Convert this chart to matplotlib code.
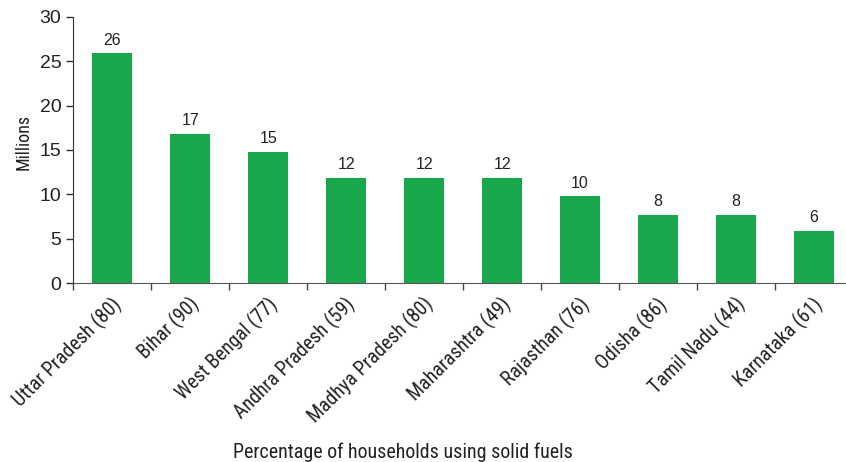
import matplotlib.pyplot as plt
import matplotlib.transforms as mtransforms
import numpy as np

states = ["Uttar Pradesh (80)", "Bihar (90)", "West Bengal (77)", "Andhra Pradesh (59)",
          "Madhya Pradesh (80)", "Maharashtra (49)", "Rajasthan (76)", "Odisha (86)",
          "Tamil Nadu (44)", "Karnataka (61)"]
millions = [25.9, 16.8, 14.8, 11.9, 11.9, 11.9, 9.8, 7.7, 7.7, 5.9]
yticks = [0, 5, 10, 15, 20, 25, 30]

narrow = ["Roboto Condensed", "Archivo Narrow", "PT Sans Narrow", "Liberation Sans Narrow", "DejaVu Sans"]
plain = ["Liberation Sans", "DejaVu Sans"]
green = "#19a74b"
ink = "#222222"

fig = plt.figure(figsize=(8.46, 4.62), dpi=100)
ax = fig.add_axes([0.0866, 0.3868, 0.9217, 0.5771])

x = np.arange(len(states))
bars = ax.bar(x, millions, width=0.51, color=green)
ax.bar_label(bars, fmt="%.0f", padding=4, fontsize=11.5, family=plain, color=ink)

ax.set_xlim(-0.5, len(states) - 0.5)
ax.set_ylim(0, 30)
ax.set_yticks(yticks)
ax.set_yticklabels([str(v) for v in yticks], fontsize=14, family=plain, color=ink)

# ticks sit between the categories, labels at the centres
ax.set_xticks(np.arange(len(states) + 1) - 0.5)
ax.set_xticklabels([])
ax.set_xticks(x, minor=True)
ax.set_xticklabels(states, minor=True, rotation=45, ha="right", va="center",
                   rotation_mode="anchor", fontsize=14.3, family=narrow, color=ink)
ax.tick_params(axis="x", which="minor", length=0, pad=13)
ax.tick_params(axis="x", which="major", length=5, width=1, color="#444444", direction="out")
ax.tick_params(axis="y", length=5, width=1, color="#333333", direction="out")
shift = mtransforms.ScaledTranslation(6 / 100, 0, fig.dpi_scale_trans)
for lab in ax.get_xticklabels(minor=True):
    lab.set_transform(lab.get_transform() + shift)

for s in ["top", "right"]:
    ax.spines[s].set_visible(False)
ax.spines["left"].set_color("#333333")
ax.spines["bottom"].set_color("#555555")

fig.text(24 / 846, 1 - 142 / 462, "Millions", rotation=90, ha="center", va="center",
         fontsize=13, family=narrow, color=ink)
fig.text(403 / 846, 0.0, "Percentage of households using solid fuels", ha="center", va="bottom",
         fontsize=14.4, family=narrow, color=ink)

plt.savefig("out.png", dpi=100)
